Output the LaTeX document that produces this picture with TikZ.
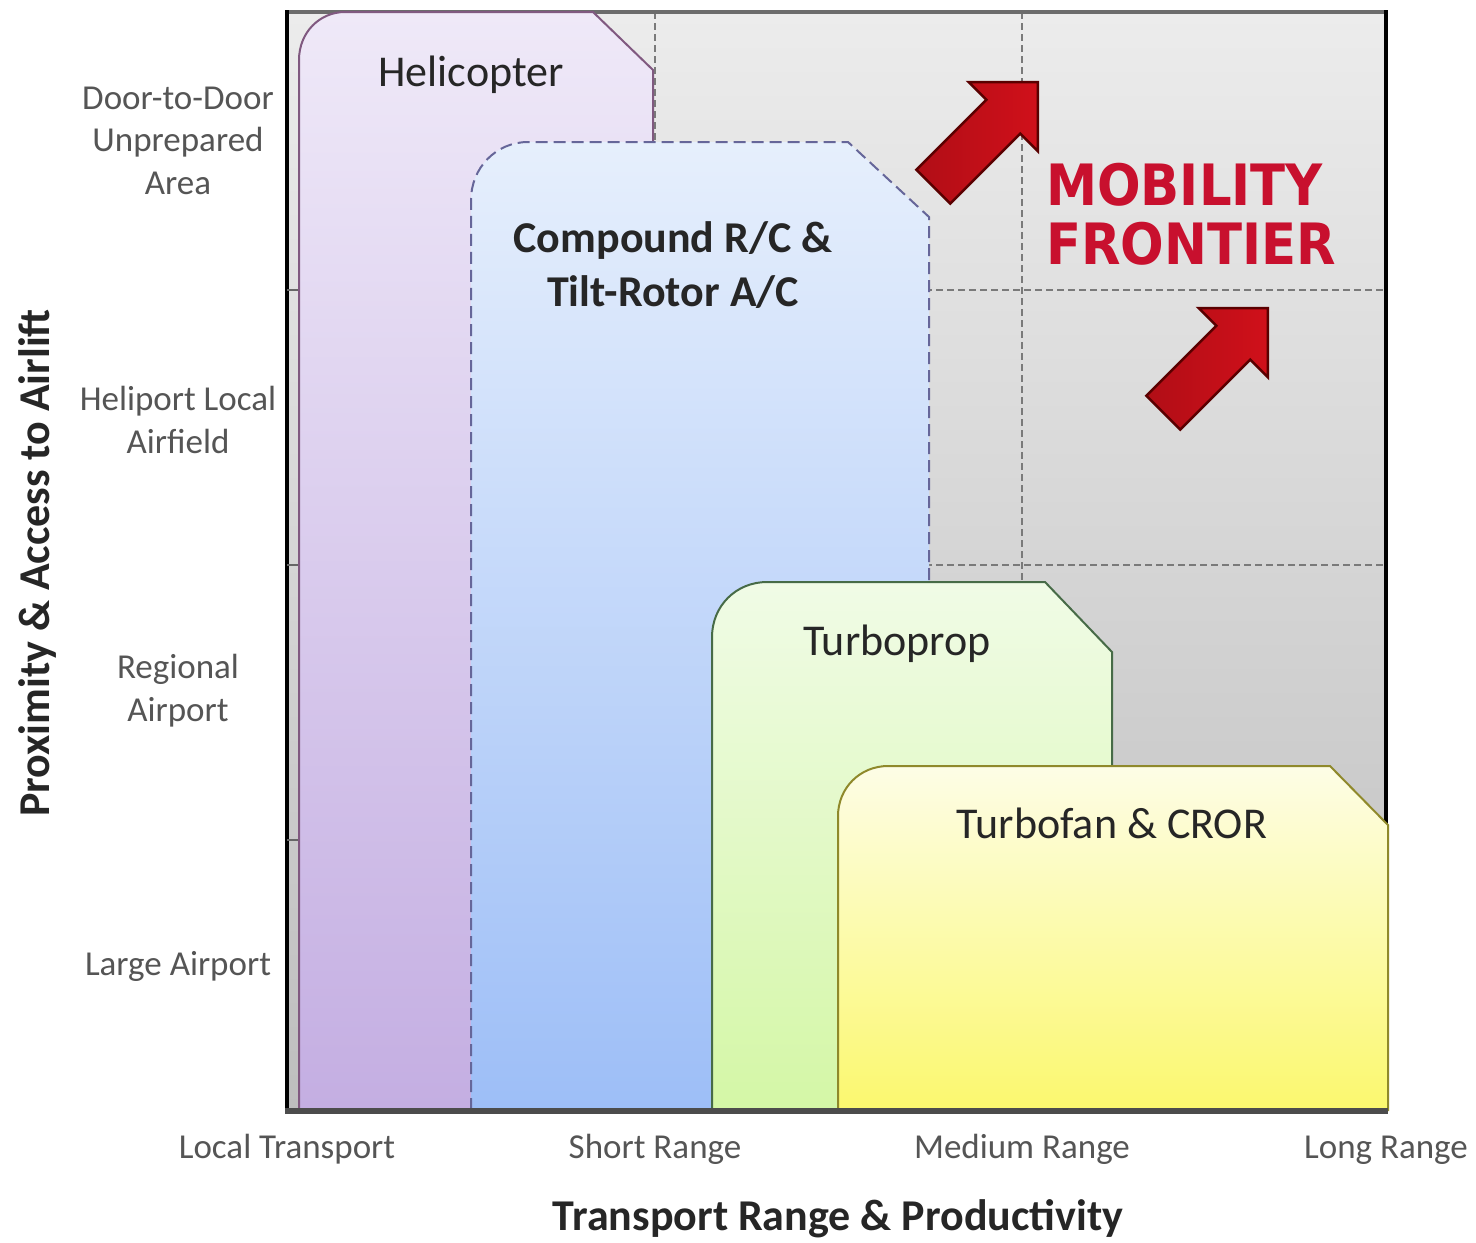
\documentclass[tikz,border=0pt]{standalone}
\usepackage{fontspec}
\setmainfont{Carlito}
\newfontfamily\frontfont[FakeStretch=0.9]{DejaVu Sans}
\definecolor{txt}{HTML}{262626}
\definecolor{axg}{HTML}{555555}
\definecolor{gridc}{HTML}{7A7A7A}
\definecolor{bgtop}{HTML}{ECECEC}
\definecolor{bgbot}{HTML}{BEBEBE}
\definecolor{helitop}{HTML}{EFE9F8}
\definecolor{helibot}{HTML}{C4AEE2}
\definecolor{comptop}{HTML}{E6EFFC}
\definecolor{compbot}{HTML}{9DBEF7}
\definecolor{proptop}{HTML}{F0FBE6}
\definecolor{propbot}{HTML}{D4F7A6}
\definecolor{fantop}{HTML}{FDFDE6}
\definecolor{fanbot}{HTML}{FBF86E}
\definecolor{frontred}{HTML}{C8102E}
\definecolor{arrred}{HTML}{D0101A}
\definecolor{arrdark}{HTML}{5A0000}
\begin{document}
\begin{tikzpicture}[x=1bp,y=-1bp,
  lab/.style={font=\fontsize{44bp}{54bp}\selectfont, text=txt, inner sep=0pt, align=center, anchor=base},
  blab/.style={font=\fontsize{44bp}{54bp}\selectfont\bfseries, text=txt, inner sep=0pt, align=center, anchor=base},
  axl/.style={font=\fontsize{35bp}{42.5bp}\selectfont, text=axg, inner sep=0pt, align=center, anchor=base},
  gridline/.style={draw=gridc, line width=1.5bp, dash pattern=on 7bp off 4bp},
  redarrow/.style={left color=arrred!85!black, right color=arrred, draw=arrdark, line width=2.5bp, line join=miter},
  boxshape/.style={line width=2bp}
]
\useasboundingbox (0,0) rectangle (1476,1242);
\fill[white] (0,0) rectangle (1476,1242);

% background of the plot
\shade[top color=bgtop, bottom color=bgbot] (287,12) rectangle (1386,1110);

% grid
\draw[gridline] (655,12) -- (655,1110);
\draw[gridline] (1022,12) -- (1022,1110);
\draw[gridline] (287,290) -- (1386,290);
\draw[gridline] (287,565) -- (1386,565);
\draw[gridline] (287,840) -- (1386,840);

% frame
\draw[draw=gray!85!black, line width=4bp] (287,12) -- (1386,12);
\draw[black, line width=4bp] (1386,10) -- (1386,1110);

% Helicopter
\path[boxshape, top color=helitop, bottom color=helibot, draw=gray!70!violet]
  (299,1110) -- (299,60) .. controls (299,32) and (320,12) .. (345,12)
  -- (593,12) -- (653,70) -- (653,1110) -- cycle;

% Compound
\path[boxshape, top color=comptop, bottom color=compbot, draw=gray!80!blue, dash pattern=on 12bp off 6bp]
  (471,1110) -- (471,200) .. controls (471,168) and (496,142) .. (528,142)
  -- (848,142) -- (929,217) -- (929,1110);

% Turboprop
\path[boxshape, top color=proptop, bottom color=propbot, draw=gray!80!green!70!black]
  (712,1110) -- (712,637) .. controls (712,606) and (736,582) .. (767,582)
  -- (1045,582) -- (1112,652) -- (1112,1110) -- cycle;

% Turbofan
\path[boxshape, top color=fantop, bottom color=fanbot, draw=olive!70!gray]
  (838,1110) -- (838,816) .. controls (838,788) and (860,766) .. (888,766)
  -- (1330,766) -- (1388,825) -- (1388,1110) -- cycle;

% axes
\draw[black, line width=4bp] (287,10) -- (287,1112);
\draw[black!70, line width=6bp] (285,1111) -- (1388,1111);
\foreach \yy in {290,565,840} \draw[black!60, line width=2bp] (287,\yy) -- (298,\yy);

% arrows
\begin{scope}[shift={(933.3,186.7)}, rotate=45]
  \path[redarrow] (0,-24) -- (99,-24) -- (99,-49) -- (148,0) -- (99,49) -- (99,24) -- (0,24) -- cycle;
\end{scope}
\begin{scope}[shift={(1163.3,412.7)}, rotate=45]
  \path[redarrow] (0,-24) -- (99,-24) -- (99,-49) -- (148,0) -- (99,49) -- (99,24) -- (0,24) -- cycle;
\end{scope}

% box labels
\node[lab] (heli) at (471,86) {Helicopter};
\node[blab] (comp) at (673,306) {Compound R/C \&\\Tilt-Rotor A/C};
\node[lab] (prop) at (897,655) {Turboprop};
\node[lab] (fan) at (1112,838) {Turbofan \& CROR};
\node[anchor=base west, inner sep=0pt, align=left, text=frontred,
  font=\frontfont\bfseries\fontsize{57bp}{59bp}\selectfont] (front) at (1046,264) {MOBILITY\\FRONTIER};

% y-axis labels
\node[axl] (y1) at (178,194) {Door-to-Door\\Unprepared\\Area};
\node[axl] (y2) at (178,453) {Heliport Local\\Airfield};
\node[axl] (y3) at (178,721) {Regional\\Airport};
\node[axl] (y4) at (178,975) {Large Airport};

% x-axis labels
\node[axl] (x1) at (287,1158) {Local Transport};
\node[axl] (x2) at (655,1158) {Short Range};
\node[axl] (x3) at (1022,1158) {Medium Range};
\node[axl] (x4) at (1386,1158) {Long Range};

% axis titles
\node[blab, anchor=base] (xt) at (838,1230) {Transport Range \& Productivity};
\node[blab, anchor=center, rotate=90] (yt) at (38,563) {Proximity \& Access to Airlift};
\end{tikzpicture}
\end{document}
